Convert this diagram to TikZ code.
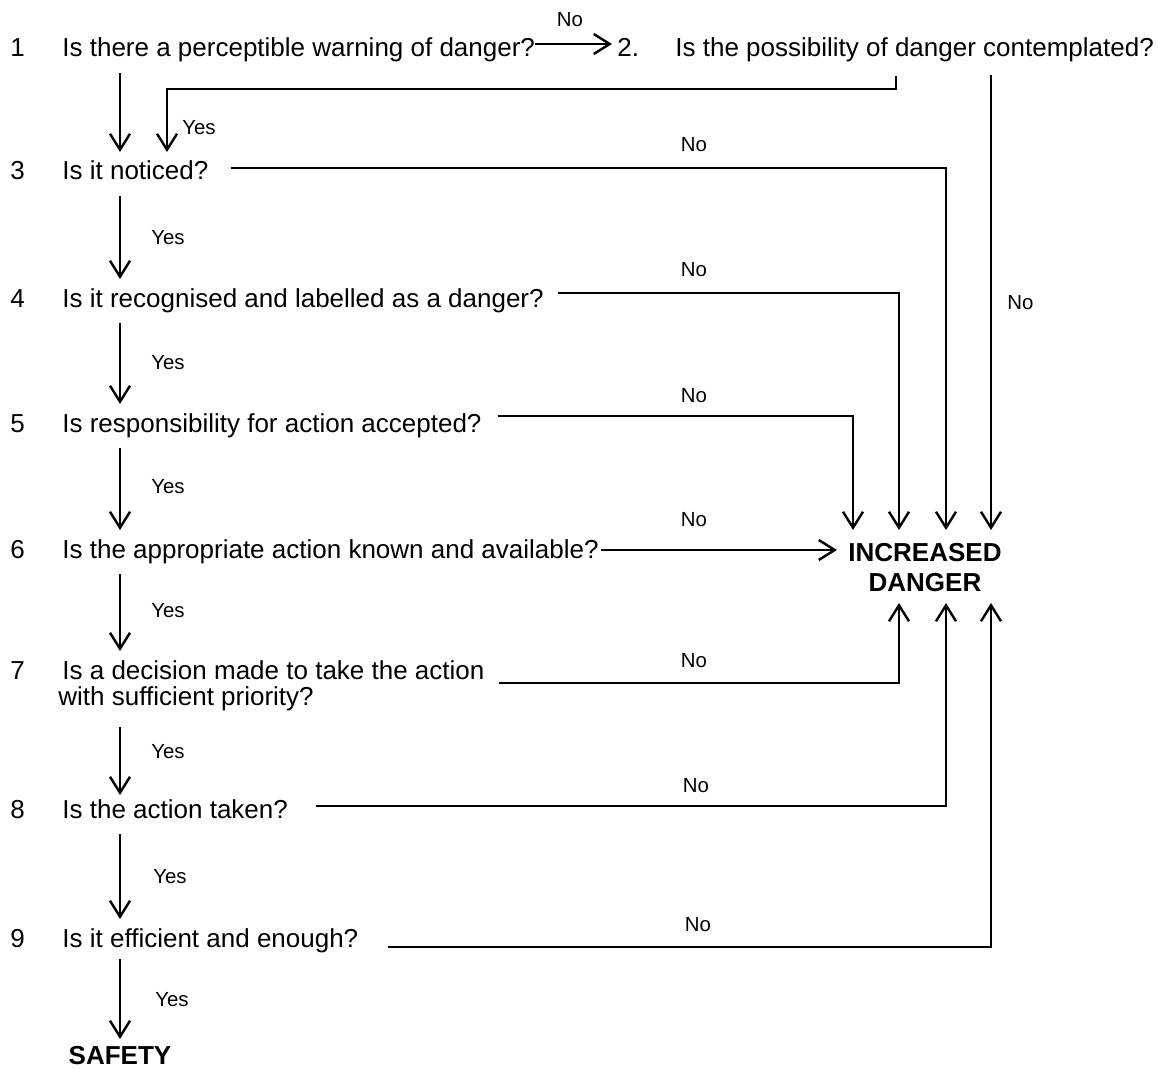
\documentclass[tikz,border=0pt]{standalone}
\usepackage{fontspec}
\setmainfont{Liberation Sans}
\usetikzlibrary{arrows.meta}

\tikzset{
  qtext/.style={anchor=base west, inner sep=0pt, font=\fontsize{13}{15}\selectfont},
  numtext/.style={anchor=base west, inner sep=0pt, font=\fontsize{13}{15}\selectfont},
  endtext/.style={inner sep=0pt, align=center, font=\fontsize{13}{15}\selectfont\bfseries},
  lab/.style={anchor=base, inner sep=0pt, font=\fontsize{10.2}{12}\selectfont},
  arr/.style={line width=1.2pt, -{Straight Barb[length=8pt,width=10pt,line width=1.2pt]}},
  down/.style={arr, shorten <=8pt, shorten >=14pt}
}

\begin{document}
\begin{tikzpicture}[x=0.5pt, y=-0.5pt]
	\useasboundingbox (0,0) rectangle (1158,1070);
	\coordinate (colx) at (120,0);
	% question texts
	\node[numtext] (n1) at (10,57) {1};
	\node[qtext] (q1) at (62,57) {Is there a perceptible warning of danger?};
	\node[numtext] (n2) at (617,57) {2.};
	\node[qtext] (q2) at (675,57) {Is the possibility of danger contemplated?};
	\node[numtext] (n3) at (10,180) {3};
	\node[qtext] (q3) at (62,180) {Is it noticed?};
	\node[numtext] (n4) at (10,307) {4};
	\node[qtext] (q4) at (62,307) {Is it recognised and labelled as a danger?};
	\node[numtext] (n5) at (10,432) {5};
	\node[qtext] (q5) at (62,432) {Is responsibility for action accepted?};
	\node[numtext] (n6) at (10,558) {6};
	\node[qtext] (q6) at (62,558) {Is the appropriate action known and available?};
	\node[numtext] (n7) at (10,679) {7};
	\node[qtext] (q7) at (62,679) {Is a decision made to take the action};
	\node[qtext] (q7b) at (58,705) {with sufficient priority?};
	\node[numtext] (n8) at (10,818) {8};
	\node[qtext] (q8) at (62,818) {Is the action taken?};
	\node[numtext] (n9) at (10,947) {9};
	\node[qtext] (q9) at (62,947) {Is it efficient and enough?};
	\node[endtext, anchor=base] (safe) at (120,1064) {SAFETY};
	\node[endtext] (dng) at (925,568) {INCREASED\\DANGER};
	% arrow tips at the danger node
	\coordinate (t2) at (991,530);
	\coordinate (t3) at (946,530);
	\coordinate (t4) at (899,530);
	\coordinate (t5) at (853,530);
	\coordinate (t6) at (837,550);
	\coordinate (t7) at (899,603);
	\coordinate (t8) at (946,603);
	\coordinate (t9) at (991,603);
	% yes arrows
	\draw[down] (q1.base -| colx) -- (q3.base -| colx);
	\draw[down] (q3.base -| colx) -- (q4.base -| colx);
	\draw[down] (q4.base -| colx) -- (q5.base -| colx);
	\draw[down] (q5.base -| colx) -- (q6.base -| colx);
	\draw[down] (q6.base -| colx) -- (q7.base -| colx);
	\draw[down, shorten <=11pt, shorten >=11.5pt] (q7b.base -| colx) -- (q8.base -| colx);
	\draw[down] (q8.base -| colx) -- (q9.base -| colx);
	\draw[down, shorten <=6pt, shorten >=12.5pt] (q9.base -| colx) -- (safe.base -| colx);
	\draw[arr] ([shift={(110.5pt,-9.5pt)}]q2.base west) -- ++(0,13) -| ([shift={(52.5pt,14pt)}]q3.base west);
	% no arrows
	\draw[arr, shorten >=2.5pt] ([yshift=6.5pt]q1.base east) -- ([yshift=6.5pt]n2.base west);
	\draw[arr] ([shift={(158pt,-9pt)}]q2.base west) -- (t2);
	\draw[arr] ([shift={(11pt,6pt)}]q3.base east) -| (t3);
	\draw[arr] ([shift={(7pt,7pt)}]q4.base east) -| (t4);
	\draw[arr] ([shift={(8pt,8pt)}]q5.base east) -| (t5);
	\draw[arr] ([shift={(1pt,4pt)}]q6.base east) -- (t6);
	\draw[arr] ([shift={(7pt,-2pt)}]q7.base east) -| (t7);
	\draw[arr] ([shift={(14pt,6pt)}]q8.base east) -| (t8);
	\draw[arr] ([shift={(14.5pt,0pt)}]q9.base east) -| (t9);
	% labels
	\node[lab] (no1) at (570,27) {No};
	\node[lab, anchor=base west] (no2) at (1007,309) {No};
	\node[lab] (no3) at (694,152) {No};
	\node[lab] (no4) at (694,277) {No};
	\node[lab] (no5) at (694,402) {No};
	\node[lab] (no6) at (694,526) {No};
	\node[lab] (no7) at (694,667) {No};
	\node[lab] (no8) at (696,792) {No};
	\node[lab] (no9) at (698,931) {No};
	\node[lab, anchor=base west] (yes2) at (182,135) {Yes};
	\node[lab, anchor=base west] (yes3) at (151,244) {Yes};
	\node[lab, anchor=base west] (yes4) at (151,369) {Yes};
	\node[lab, anchor=base west] (yes5) at (151,493) {Yes};
	\node[lab, anchor=base west] (yes6) at (151,617) {Yes};
	\node[lab, anchor=base west] (yes7) at (151,758) {Yes};
	\node[lab, anchor=base west] (yes8) at (153,883) {Yes};
	\node[lab, anchor=base west] (yes9) at (155,1006) {Yes};
\end{tikzpicture}
\end{document}
